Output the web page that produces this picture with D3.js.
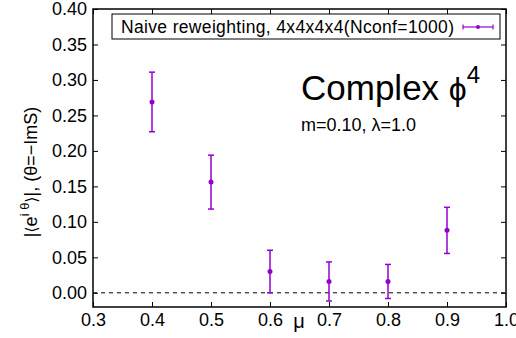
<!DOCTYPE html>
<html>
<head>
<meta charset="utf-8">
<script src="https://cdn.jsdelivr.net/npm/d3@7"></script>
<style>
  body { margin: 0; background: #fff; }
  text { font-family: "Liberation Sans", Arial, sans-serif; fill: #000; }
</style>
</head>
<body>
<script>
// values
var mu = [0.4, 0.5, 0.6, 0.7, 0.8, 0.9];
var phase = [0.269, 0.156, 0.030, 0.016, 0.016, 0.088];
var phaseErr = [0.042, 0.038, 0.030, 0.0275, 0.024, 0.0325];
var xTicks = [0.3, 0.4, 0.5, 0.6, 0.7, 0.8, 0.9, 1.0];
var yTicks = [0.00, 0.05, 0.10, 0.15, 0.20, 0.25, 0.30, 0.35, 0.40];
var legendLabel = "Naive reweighting, 4x4x4x4(Nconf=1000)";

var width = 516, height = 338;
var margin = {left: 93, right: 10, top: 9, bottom: 31};
var color = "#9400d3";

var svg = d3.select("body").append("svg")
  .attr("width", width).attr("height", height);

var x = d3.scaleLinear().domain([0.3, 1.0]).range([margin.left, width - margin.right]);
var y = d3.scaleLinear().domain([-0.02, 0.40]).range([height - margin.bottom, margin.top]);

// axes, gnuplot style: ticks inward on all four sides
var tickLen = 5;
svg.append("g")
  .attr("transform", "translate(0," + (height - margin.bottom) + ")")
  .call(d3.axisBottom(x).tickValues(xTicks).tickFormat(d3.format(".1f")).tickSizeInner(-tickLen).tickSizeOuter(0).tickPadding(6))
  .call(function(g) { g.select(".domain").remove(); g.selectAll("text").attr("font-size", 18); });
svg.append("g")
  .attr("transform", "translate(0," + margin.top + ")")
  .call(d3.axisTop(x).tickValues(xTicks).tickFormat("").tickSizeInner(-tickLen).tickSizeOuter(0))
  .call(function(g) { g.select(".domain").remove(); });
svg.append("g")
  .attr("transform", "translate(" + margin.left + ",0)")
  .call(d3.axisLeft(y).tickValues(yTicks).tickFormat(d3.format(".2f")).tickSizeInner(-tickLen).tickSizeOuter(0).tickPadding(6))
  .call(function(g) { g.select(".domain").remove(); g.selectAll("text").attr("font-size", 18); });
svg.append("g")
  .attr("transform", "translate(" + (width - margin.right) + ",0)")
  .call(d3.axisRight(y).tickValues(yTicks).tickFormat("").tickSizeInner(-tickLen).tickSizeOuter(0))
  .call(function(g) { g.select(".domain").remove(); });

svg.selectAll(".tick line").attr("stroke", "#000").attr("stroke-width", 1);

// frame
svg.append("rect")
  .attr("x", margin.left).attr("y", margin.top)
  .attr("width", width - margin.left - margin.right)
  .attr("height", height - margin.top - margin.bottom)
  .attr("fill", "none").attr("stroke", "#000").attr("stroke-width", 1.5);

// zero line
svg.append("line")
  .attr("x1", x(0.3)).attr("x2", x(1.0))
  .attr("y1", y(0)).attr("y2", y(0))
  .attr("stroke", "#000").attr("stroke-dasharray", "4,4").attr("stroke-width", 1);

// error bars
var pts = mu.map(function(m, i) { return {x: m, y: phase[i], e: phaseErr[i]}; });
var bars = svg.append("g").attr("stroke", color).attr("stroke-width", 1.5);
bars.selectAll(".bar").data(pts).enter().append("line")
  .attr("x1", function(d) { return x(d.x); }).attr("x2", function(d) { return x(d.x); })
  .attr("y1", function(d) { return y(d.y - d.e); }).attr("y2", function(d) { return y(d.y + d.e); });
bars.selectAll(".capTop").data(pts).enter().append("line")
  .attr("x1", function(d) { return x(d.x) - 3; }).attr("x2", function(d) { return x(d.x) + 3; })
  .attr("y1", function(d) { return y(d.y + d.e); }).attr("y2", function(d) { return y(d.y + d.e); });
bars.selectAll(".capBot").data(pts).enter().append("line")
  .attr("x1", function(d) { return x(d.x) - 3; }).attr("x2", function(d) { return x(d.x) + 3; })
  .attr("y1", function(d) { return y(d.y - d.e); }).attr("y2", function(d) { return y(d.y - d.e); });
svg.selectAll(".dot").data(pts).enter().append("circle")
  .attr("cx", function(d) { return x(d.x); }).attr("cy", function(d) { return y(d.y); })
  .attr("r", 2.5).attr("fill", color);

// legend
svg.append("rect")
  .attr("x", 112).attr("y", 14).attr("width", 388).attr("height", 25)
  .attr("fill", "#fff").attr("stroke", "#000").attr("stroke-width", 1);
svg.append("text").attr("x", 121).attr("y", 33).attr("font-size", 17.5)
  .attr("textLength", 333).text(legendLabel);
var lg = svg.append("g").attr("stroke", color).attr("stroke-width", 1.2);
lg.append("line").attr("x1", 463).attr("x2", 493).attr("y1", 27).attr("y2", 27);
lg.append("line").attr("x1", 463).attr("x2", 463).attr("y1", 24.5).attr("y2", 29.5);
lg.append("line").attr("x1", 493).attr("x2", 493).attr("y1", 24.5).attr("y2", 29.5);
svg.append("circle").attr("cx", 478).attr("cy", 27).attr("r", 2).attr("fill", color);

// annotations
var title = svg.append("text").attr("x", 301).attr("y", 100).attr("font-size", 35);
title.append("tspan").text("Complex ");
title.append("tspan").attr("font-size", 32).text("\u03d5");
title.append("tspan").attr("font-size", 24).attr("dy", -17).text("4");
svg.append("text").attr("x", 301).attr("y", 131).attr("font-size", 18).text("m=0.10, \u03bb=1.0");

// axis labels
svg.append("text").attr("x", 299).attr("y", 328).attr("text-anchor", "middle").attr("font-size", 20).text("\u03bc");
var yl = svg.append("text")
  .attr("transform", "translate(37,172) rotate(-90)")
  .attr("text-anchor", "middle").attr("font-size", 18);
yl.append("tspan").text("|");
yl.append("tspan").attr("font-family", "DejaVu Sans").attr("font-size", 16).text("\u27e8");
yl.append("tspan").text("e");
yl.append("tspan").attr("font-size", 13).attr("dy", -8).text("i \u03b8");
yl.append("tspan").attr("dy", 8).attr("font-family", "DejaVu Sans").attr("font-size", 16).text("\u27e9");
yl.append("tspan").text("|, (\u03b8=\u2212ImS)");
</script>
</body>
</html>
